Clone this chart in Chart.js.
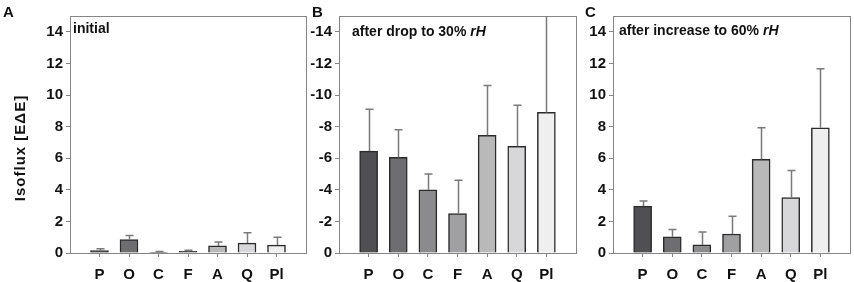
<!DOCTYPE html>
<html>
<head>
<meta charset="utf-8">
<script src="https://cdn.jsdelivr.net/npm/chart.js@4.4.1/dist/chart.umd.min.js"></script>
<style>
  body { margin: 0; background: #fff; width: 854px; height: 282px; position: relative; overflow: hidden; }
  .panel { position: absolute; top: 0; height: 282px; }
</style>
</head>
<body>
<div class="panel" style="left:0;width:308px"><canvas id="chartA" width="308" height="282"></canvas></div>
<div class="panel" style="left:305px;width:275px"><canvas id="chartB" width="275" height="282"></canvas></div>
<div class="panel" style="left:578px;width:276px"><canvas id="chartC" width="276" height="282"></canvas></div>
<script>
const categories = ['P', 'O', 'C', 'F', 'A', 'Q', 'Pl'];
const barColors = ['#505052', '#6e6e70', '#8b8b8d', '#a0a0a2', '#b9b9ba', '#d7d7d9', '#efeff0'];
const yTicks = [0, 2, 4, 6, 8, 10, 12, 14];
const yTickLabels = ['0', '2', '4', '6', '8', '10', '12', '14'];
const yTickLabelsNeg = ['0', '-2', '-4', '-6', '-8', '-10', '-12', '-14'];

const initialValues = [0.15, 0.85, 0.05, 0.1, 0.45, 0.63, 0.5];
const initialErrors = [0.12, 0.25, 0.05, 0.08, 0.25, 0.65, 0.5];

const dropValues = [6.45, 6.05, 4.0, 2.5, 7.45, 6.75, 8.9];
const dropErrors = [2.65, 1.75, 1.0, 2.1, 3.15, 2.6, 7.5];

const increaseValues = [2.97, 1.03, 0.51, 1.2, 5.93, 3.5, 7.93];
const increaseErrors = [0.32, 0.45, 0.82, 1.12, 1.99, 1.72, 3.73];

const FONT = "'Liberation Sans', Arial, sans-serif";
Chart.defaults.font.family = FONT;
Chart.defaults.color = '#111';

// box round the plot area, drawn under the bars
const frame = {
    id: 'frame',
    beforeDatasetsDraw(chart) {
        const { ctx, chartArea: a } = chart;
        ctx.save();
        ctx.strokeStyle = '#858585';
        ctx.lineWidth = 1;
        ctx.strokeRect(Math.round(a.left) + 0.5, Math.round(a.top) + 0.5,
            Math.round(a.right - a.left), Math.round(a.bottom - a.top));
        ctx.restore();
    }
};

// upper error whiskers with a cap
const errorBars = {
    id: 'errorBars',
    afterDatasetsDraw(chart, args, opts) {
        const { ctx, chartArea: a } = chart;
        const yScale = chart.scales.y;
        const meta = chart.getDatasetMeta(0);
        const ds = chart.data.datasets[0];
        ctx.save();
        ctx.beginPath();
        ctx.rect(a.left, a.top, a.right - a.left, a.bottom - a.top);
        ctx.clip();
        ctx.strokeStyle = '#7a7a7a';
        ctx.lineWidth = 1.5;
        meta.data.forEach((bar, i) => {
            const v = ds.data[i].y;
            const top = yScale.getPixelForValue(v + opts.errors[i]);
            const x = Math.round(bar.x) + 0.5;
            ctx.beginPath();
            ctx.moveTo(x, bar.y);
            ctx.lineTo(x, top);
            ctx.moveTo(x - 4, top);
            ctx.lineTo(x + 4, top);
            ctx.stroke();
        });
        ctx.restore();
    }
};

// panel letter, y title and the label inside the plot
const labels = {
    id: 'labels',
    afterDraw(chart, args, opts) {
        const ctx = chart.ctx;
        ctx.save();
        ctx.fillStyle = '#111';
        ctx.textBaseline = 'alphabetic';
        ctx.font = 'bold 15px ' + FONT;
        ctx.fillText(opts.letter, opts.letterX, 17);
        ctx.font = 'bold 14px ' + FONT;
        let x = opts.titleX;
        ctx.fillText(opts.title, x, opts.titleY);
        if (opts.italic) {
            x += ctx.measureText(opts.title).width;
            ctx.font = 'italic bold 14px ' + FONT;
            ctx.fillText(opts.italic, x, opts.titleY);
        }
        if (opts.yTitle) {
            ctx.font = 'bold 15px ' + FONT;
            ctx.letterSpacing = '1px';
            ctx.translate(21, 148);
            ctx.rotate(-Math.PI / 2);
            ctx.textAlign = 'center';
            ctx.textBaseline = 'middle';
            ctx.fillText(opts.yTitle, 0, 0);
        }
        ctx.restore();
    }
};

function makePanel(id, values, errors, cfg) {
    const ctx = document.getElementById(id).getContext('2d');
    return new Chart(ctx, {
        type: 'bar',
        data: {
            datasets: [{
                data: values.map((v, i) => ({ x: i + 1, y: v })),
                backgroundColor: barColors,
                borderColor: '#2b2b2b',
                borderWidth: 1.5,
                barThickness: 18
            }]
        },
        options: {
            responsive: false,
            animation: false,
            layout: { padding: { top: 16, right: cfg.padRight, left: 0, bottom: 0 } },
            plugins: {
                legend: { display: false },
                tooltip: { enabled: false },
                errorBars: { errors: errors },
                labels: cfg.labels
            },
            scales: {
                x: {
                    type: 'linear',
                    min: 0,
                    max: 8,
                    offset: false,
                    afterBuildTicks: s => { s.ticks = categories.map((c, i) => ({ value: i + 1 })); },
                    afterFit: s => { s.height = 29; },
                    ticks: {
                        callback: v => categories[v - 1],
                        font: { size: 15, weight: 'bold' },
                        padding: 9,
                        maxRotation: 0
                    },
                    grid: { display: true, offset: false, drawOnChartArea: false, tickLength: 4, color: '#858585' },
                    border: { display: false }
                },
                y: {
                    min: 0,
                    max: 15,
                    afterBuildTicks: s => { s.ticks = yTicks.map(v => ({ value: v })); },
                    afterFit: s => { s.width = cfg.yWidth; },
                    ticks: {
                        callback: v => cfg.tickLabels[yTicks.indexOf(v)],
                        font: { size: 15, weight: 'bold' },
                        padding: 3
                    },
                    grid: { display: true, drawOnChartArea: false, tickLength: 4, color: '#858585' },
                    border: { display: false }
                }
            }
        },
        plugins: [frame, errorBars, labels]
    });
}

makePanel('chartA', initialValues, initialErrors, {
    yWidth: 70, padRight: 2, tickLabels: yTickLabels,
    labels: { letter: 'A', letterX: 3, title: 'initial', titleX: 73, titleY: 33, yTitle: 'Isoflux [EΔE]' }
});
makePanel('chartB', dropValues, dropErrors, {
    yWidth: 34, padRight: 4, tickLabels: yTickLabelsNeg,
    labels: { letter: 'B', letterX: 7, title: 'after drop to 30% ', italic: 'rH', titleX: 47, titleY: 36 }
});
makePanel('chartC', increaseValues, increaseErrors, {
    yWidth: 35, padRight: 4, tickLabels: yTickLabels,
    labels: { letter: 'C', letterX: 7, title: 'after increase to 60% ', italic: 'rH', titleX: 41, titleY: 35 }
});
</script>
</body>
</html>
